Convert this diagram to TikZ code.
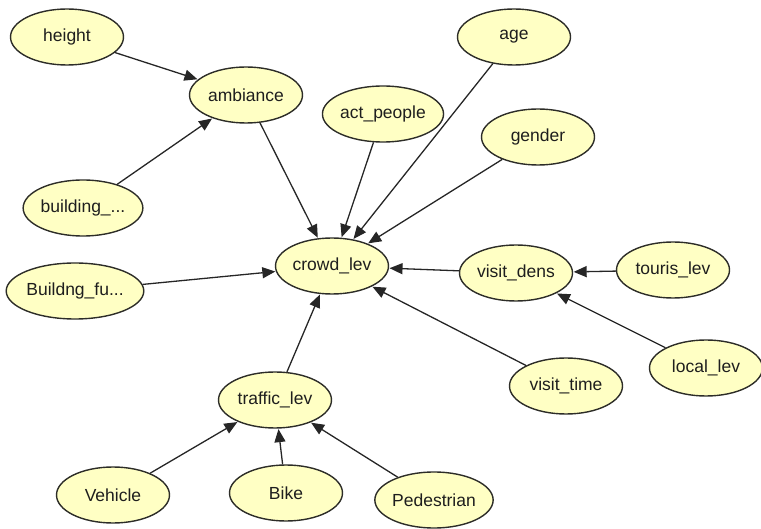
\documentclass[tikz,border=0pt]{standalone}
\usepackage{fontspec}
\setmainfont{Liberation Sans}
\usetikzlibrary{shapes.geometric,arrows.meta}
\definecolor{nodefill}{RGB}{255,255,196}
\definecolor{nodeline}{RGB}{45,45,40}
\definecolor{textcol}{RGB}{30,30,30}
\tikzset{
  var/.style={ellipse, draw=nodeline, line width=1.4pt, fill=nodefill,
    minimum width=113pt, minimum height=56pt, inner sep=0pt,
    text=textcol, font=\fontsize{17.5}{20}\selectfont},
  link/.style={draw=black!85, line width=1.3pt,
    -{Triangle[length=13pt,width=11pt]}, shorten >=0.5pt}
}
\begin{document}
\begin{tikzpicture}[x=1pt,y=-1pt]
\useasboundingbox (0,0) rectangle (761,529);
% variables
\node[var] (height)   at (67,37)   {height};
\node[var] (ambiance) at (246,95)  {ambiance};
\node[var] (building) at (83,208)  {building\_...};
\node[var] (age)      at (514,37)  {age};
\node[var] (actpeople) at (383,114) {act\_people};
\node[var] (gender)   at (538,137) {gender};
\node[var] (crowd)    at (332,266) {crowd\_lev};
\node[var] (buildfu)  at (75,291)  {Buildng\_fu...};
\node[var] (visitdens) at (516,273) {visit\_dens};
\node[var] (touris)   at (673,270) {touris\_lev};
\node[var] (local)    at (706,368) {local\_lev};
\node[var] (visittime) at (566,386) {visit\_time};
\node[var] (traffic)  at (275,400) {traffic\_lev};
\node[var] (vehicle)  at (113,495) {Vehicle};
\node[var] (bike)     at (286,493) {Bike};
\node[var] (pedestrian) at (434,500) {Pedestrian};
% dependencies
\draw[link] (height) -- (ambiance);
\draw[link] (building) -- (ambiance);
\draw[link] (ambiance) -- (crowd);
\draw[link] (actpeople) -- (crowd);
\draw[link] (age) -- (crowd);
\draw[link] (gender) -- (crowd);
\draw[link] (buildfu) -- (crowd);
\draw[link] (visitdens) -- (crowd);
\draw[link] (visittime) -- (crowd);
\draw[link] (traffic) -- (crowd);
\draw[link] (touris) -- (visitdens);
\draw[link] (local) -- (visitdens);
\draw[link] (vehicle) -- (traffic);
\draw[link] (bike) -- (traffic);
\draw[link] (pedestrian) -- (traffic);
\end{tikzpicture}
\end{document}
